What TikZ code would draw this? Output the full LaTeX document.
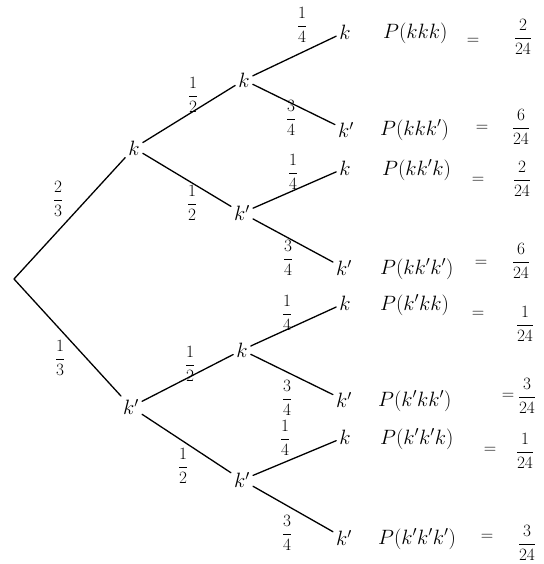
\documentclass[tikz,border=0pt]{standalone}
\begin{document}
\begin{tikzpicture}[x=1pt,y=-1pt,
  lbl/.style={inner sep=3pt, font=\fontsize{20}{24}\selectfont},
  br/.style={line width=1.3pt, line cap=round},
  pr/.style={inner sep=0pt, font=\fontsize{17}{20}\selectfont},
  res/.style={anchor=west, inner sep=0pt, font=\fontsize{21}{25}\selectfont},
  eq/.style={inner sep=0pt, font=\fontsize{17}{20}\selectfont},
  fr/.style={inner sep=0pt, font=\fontsize{19}{22}\selectfont}]
\useasboundingbox (0,0) rectangle (543,564);
% root
\coordinate (r) at (14,279);
% level 1
\node[lbl] (a) at (134,148) {$k$};
\node[lbl] (b) at (131,407) {$k'$};
% level 2
\node[lbl] (aa) at (244,80) {$k$};
\node[lbl] (ab) at (242,213) {$k'$};
\node[lbl] (ba) at (242,350) {$k$};
\node[lbl] (bb) at (242,480) {$k'$};
% level 3
\node[lbl] (aaa) at (345,32) {$k$};
\node[lbl] (aab) at (346,130) {$k'$};
\node[lbl] (aba) at (345,168) {$k$};
\node[lbl] (abb) at (344,268) {$k'$};
\node[lbl] (baa) at (345,303) {$k$};
\node[lbl] (bab) at (344,400) {$k'$};
\node[lbl] (bba) at (345,437) {$k$};
\node[lbl] (bbb) at (344,538) {$k'$};
% branches
\draw[br] (r) -- (a);
\draw[br] (r) -- (b);
\draw[br] (a) -- (aa);
\draw[br] (a) -- (ab);
\draw[br] (b) -- (ba);
\draw[br] (b) -- (bb);
\draw[br] (aa) -- (aaa);
\draw[br] (aa) -- (aab);
\draw[br] (ab) -- (aba);
\draw[br] (ab) -- (abb);
\draw[br] (ba) -- (baa);
\draw[br] (ba) -- (bab);
\draw[br] (bb) -- (bba);
\draw[br] (bb) -- (bbb);
% branch probabilities
\node[pr] (p1) at (58,199) {$\displaystyle\frac{2}{3}$};
\node[pr] (p2) at (60,358) {$\displaystyle\frac{1}{3}$};
\node[pr] (p3) at (193,95) {$\displaystyle\frac{1}{2}$};
\node[pr] (p4) at (192,203) {$\displaystyle\frac{1}{2}$};
\node[pr] (p5) at (190,364) {$\displaystyle\frac{1}{2}$};
\node[pr] (p6) at (183,466) {$\displaystyle\frac{1}{2}$};
\node[pr] (p7) at (302,25) {$\displaystyle\frac{1}{4}$};
\node[pr] (p8) at (291,118) {$\displaystyle\frac{3}{4}$};
\node[pr] (p9) at (293,172) {$\displaystyle\frac{1}{4}$};
\node[pr] (p10) at (288,258) {$\displaystyle\frac{3}{4}$};
\node[pr] (p11) at (287,313) {$\displaystyle\frac{1}{4}$};
\node[pr] (p12) at (287,398) {$\displaystyle\frac{3}{4}$};
\node[pr] (p13) at (285,438) {$\displaystyle\frac{1}{4}$};
\node[pr] (p14) at (287,533) {$\displaystyle\frac{3}{4}$};
% outcomes
\node[res] (r1) at (383,33) {$P(kkk)$};
\node[res] (r2) at (380,130) {$P(kkk')$};
\node[res] (r3) at (382,170) {$P(kk'k)$};
\node[res] (r4) at (380,269) {$P(kk'k')$};
\node[res] (r5) at (380,305) {$P(k'kk)$};
\node[res] (r6) at (378,401) {$P(k'kk')$};
\node[res] (r7) at (380,439) {$P(k'k'k)$};
\node[res] (r8) at (378,539) {$P(k'k'k')$};
% equals signs
\node[eq] (q1) at (473,41) {$=$};
\node[eq] (q2) at (482,128) {$=$};
\node[eq] (q3) at (478,180) {$=$};
\node[eq] (q4) at (481,263) {$=$};
\node[eq] (q5) at (478,314) {$=$};
\node[eq] (q6) at (508,396) {$=$};
\node[eq] (q7) at (490,450) {$=$};
\node[eq] (q8) at (487,537) {$=$};
% fractions
\node[fr] (f1) at (523,37) {$\displaystyle\frac{2}{24}$};
\node[fr] (f2) at (521,127) {$\displaystyle\frac{6}{24}$};
\node[fr] (f3) at (522,179) {$\displaystyle\frac{2}{24}$};
\node[fr] (f4) at (521,261) {$\displaystyle\frac{6}{24}$};
\node[fr] (f5) at (525,324) {$\displaystyle\frac{1}{24}$};
\node[fr] (f6) at (527,396) {$\displaystyle\frac{3}{24}$};
\node[fr] (f7) at (525,451) {$\displaystyle\frac{1}{24}$};
\node[fr] (f8) at (527,543) {$\displaystyle\frac{3}{24}$};
\end{tikzpicture}
\end{document}
